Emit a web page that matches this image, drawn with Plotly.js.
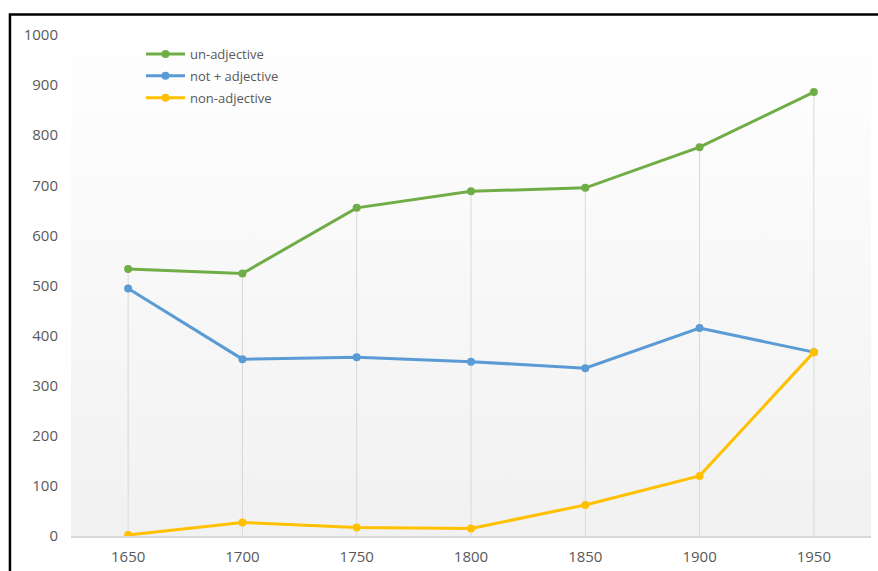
<!DOCTYPE html>
<html>
<head>
<meta charset="utf-8">
<script src="https://cdn.plot.ly/plotly-3.0.1.min.js"></script>
<style>
  html, body { margin: 0; padding: 0; background: #ffffff; overflow: hidden; }
  #chart { width: 878px; height: 571px; }
</style>
</head>
<body>
<div id="chart"></div>
<script>
// Decades on the category axis
const years = ['1650', '1700', '1750', '1800', '1850', '1900', '1950'];

// Counts per form
const unAdjective  = [533, 524, 655, 688, 695, 776, 886];
const notAdjective = [494, 353, 357, 348, 335, 415, 367];
const nonAdjective = [2, 27, 17, 15, 62, 120, 367];

const seriesNames = ['un-adjective', 'not + adjective', 'non-adjective'];
const seriesColors = ['#70ad47', '#5b9bd5', '#ffc000'];
const yTicks = [0, 100, 200, 300, 400, 500, 600, 700, 800, 900, 1000];

const allSeries = [unAdjective, notAdjective, nonAdjective];

// Drop lines: from the axis up to the highest point in each decade
const dropX = [], dropY = [];
years.forEach((yr, i) => {
  const top = Math.max(...allSeries.map(s => s[i]));
  dropX.push(yr, yr, null);
  dropY.push(0, top, null);
});

const traces = [{
  x: dropX, y: dropY, mode: 'lines', type: 'scatter',
  line: { color: '#d9d9d9', width: 1 },
  hoverinfo: 'skip', showlegend: false
}];

allSeries.forEach((vals, k) => {
  traces.push({
    x: years, y: vals, name: seriesNames[k], legendgroup: 'g' + k,
    type: 'scatter', mode: 'lines+markers',
    line: { color: seriesColors[k], width: 3 },
    marker: { color: seriesColors[k], size: 8 }
  });
});

// Soft vertical gradient for the plotting area
const grad = "data:image/svg+xml;charset=utf-8," + encodeURIComponent(
  '<svg xmlns="http://www.w3.org/2000/svg" width="100" height="100" preserveAspectRatio="none">' +
  '<defs><linearGradient id="g" x1="0" y1="0" x2="0" y2="1">' +
  '<stop offset="0" stop-color="#ffffff"/><stop offset="1" stop-color="#f1f1f1"/>' +
  '</linearGradient></defs><rect width="100" height="100" fill="url(#g)"/></svg>');

const tickFont = { family: 'Open Sans, sans-serif', size: 15, color: '#595959' };

const layout = {
  width: 878, height: 571,
  margin: { l: 71, r: 7, t: 35, b: 35, pad: 0 },
  paper_bgcolor: '#ffffff',
  plot_bgcolor: 'rgba(0,0,0,0)',
  font: { family: 'Open Sans, sans-serif', color: '#595959' },
  xaxis: {
    type: 'category', categoryorder: 'array', categoryarray: years,
    range: [-0.5, years.length - 0.5],
    showgrid: false, zeroline: false,
    showline: true, linecolor: '#d9d9d9', linewidth: 1.5,
    ticks: '', tickfont: tickFont, ticklabelstandoff: 6,
    fixedrange: true
  },
  yaxis: {
    range: [0, 1000], tickvals: yTicks, ticktext: yTicks.map(String),
    showgrid: false, zeroline: false, showline: false,
    ticks: '', tickfont: tickFont, ticklabelstandoff: 12,
    fixedrange: true
  },
  legend: {
    x: 0.0875, y: 0.992, xanchor: 'left', yanchor: 'top',
    bgcolor: 'rgba(0,0,0,0)', borderwidth: 0,
    font: { family: 'Open Sans, sans-serif', size: 13, color: '#595959' },
    itemwidth: 39,
    tracegroupgap: 2, itemclick: false, itemdoubleclick: false
  },
  images: [{
    source: grad, xref: 'paper', yref: 'paper',
    x: 0, y: 1.04, sizex: 1, sizey: 1.04,
    xanchor: 'left', yanchor: 'top', sizing: 'stretch', layer: 'below'
  }],
  shapes: [{
    type: 'rect', xref: 'paper', yref: 'paper',
    x0: -0.0763, x1: 1.05, y0: -0.12, y1: 1.0408,
    line: { color: '#000000', width: 2.5 }, fillcolor: 'rgba(0,0,0,0)',
    layer: 'above'
  }],
  showlegend: true,
  hovermode: false
};

Plotly.newPlot('chart', traces, layout, { displayModeBar: false, staticPlot: true });
</script>
</body>
</html>
